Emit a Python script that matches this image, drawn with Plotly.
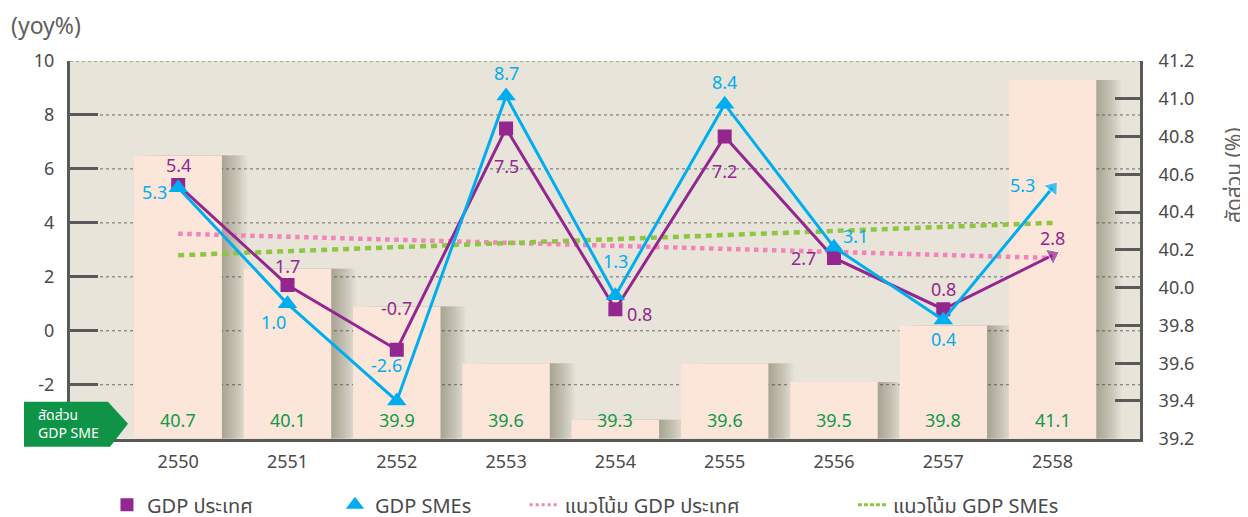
import plotly.graph_objects as go

years = ["2550", "2551", "2552", "2553", "2554", "2555", "2556", "2557", "2558"]
gdp_country = [5.4, 1.7, -0.7, 7.5, 0.8, 7.2, 2.7, 0.8, 2.8]
gdp_smes = [5.3, 1.0, -2.6, 8.7, 1.3, 8.4, 3.1, 0.4, 5.3]
sme_share = [40.7, 40.1, 39.9, 39.6, 39.3, 39.6, 39.5, 39.8, 41.1]
trend_country_ends = [3.6, 2.7]
trend_smes_ends = [2.8, 4.0]
left_ticks = [-2, 0, 2, 4, 6, 8, 10]
left_ticktext = ["-2", "0", "2", "4", "6", "8", "10"]

# label offsets (pixels) for the point labels
gdp_lbl_shift = [(0, 20), (0, 19), (0, 42), (0, -38), (24, -5), (0, -34), (-30, 0), (0, 20), (0, 17)]
sme_lbl_shift = [(-24, -4), (-14, -18), (-10, 36), (0, 23), (0, 35), (0, 22), (22, 11), (0, -19), (-30, 3)]

PURPLE = "#93278f"
CYAN = "#00aeef"
PINK = "#f384b8"
LGREEN = "#8dc63f"
DGREEN = "#12994a"
BG = "#e8e4da"
BAR = "#fce6d9"
AX = "#5a5a5a"
TXT = "#4a4a4a"
FONT = "Noto Sans, Noto Sans Thai, Tahoma, sans-serif"

idx = list(range(len(years)))
BW = 0.8
UNIT_PX = 1070 / 9.79

fig = go.Figure()

# soft shadows to the right of the bars
for k in range(1, 15):
    fig.add_trace(go.Bar(x=years, y=sme_share, yaxis="y", width=BW, offset=-BW / 2 + k * 1.8 / UNIT_PX,
                         marker=dict(color="rgba(90,80,65,0.034)", line=dict(width=0)),
                         showlegend=False, hoverinfo="skip"))

# bars (share of SMEs in GDP) on the base axis so lines are drawn on top
fig.add_trace(go.Bar(x=years, y=sme_share, yaxis="y", marker=dict(color=BAR, line=dict(width=0)),
                     width=BW, offset=-BW / 2, showlegend=False, hoverinfo="skip"))

# trend lines
fig.add_trace(go.Scatter(x=[years[0], years[-1]], y=trend_country_ends, yaxis="y2", mode="lines",
                         line=dict(color=PINK, width=4.5, dash="dot"), showlegend=False))
fig.add_trace(go.Scatter(x=[years[0], years[-1]], y=trend_smes_ends, yaxis="y2", mode="lines",
                         line=dict(color=LGREEN, width=4.5, dash="6px,5px"), showlegend=False))

# GDP country line
fig.add_trace(go.Scatter(x=years, y=gdp_country, yaxis="y2", mode="lines",
                         line=dict(color=PURPLE, width=3), showlegend=False))
fig.add_trace(go.Scatter(x=years[:-1], y=gdp_country[:-1], yaxis="y2", mode="markers",
                         marker=dict(symbol="square", size=14, color=PURPLE), showlegend=False))
fig.add_trace(go.Scatter(x=years[-2:], y=gdp_country[-2:], yaxis="y2", mode="markers",
                         marker=dict(symbol="triangle-up", angleref="previous", size=[0, 15], color=PURPLE),
                         showlegend=False))

# GDP SMEs line
fig.add_trace(go.Scatter(x=years, y=gdp_smes, yaxis="y2", mode="lines",
                         line=dict(color=CYAN, width=3), showlegend=False))
fig.add_trace(go.Scatter(x=years[:-1], y=gdp_smes[:-1], yaxis="y2", mode="markers",
                         marker=dict(symbol="triangle-up", size=17, color=CYAN), showlegend=False))
fig.add_trace(go.Scatter(x=years[-2:], y=gdp_smes[-2:], yaxis="y2", mode="markers",
                         marker=dict(symbol="triangle-up", angleref="previous", size=[0, 15], color=CYAN),
                         showlegend=False))

# legend-only entries (each in its own legend so they can be spaced like the original)
fig.add_trace(go.Scatter(x=[None], y=[None], yaxis="y2", mode="markers", name="GDP ประเทศ", legend="legend",
                         marker=dict(symbol="square", size=13, color=PURPLE)))
fig.add_trace(go.Scatter(x=[None], y=[None], yaxis="y2", mode="markers", name="GDP SMEs", legend="legend2",
                         marker=dict(symbol="triangle-up", size=16, color=CYAN)))
fig.add_trace(go.Scatter(x=[None], y=[None], yaxis="y2", mode="lines", name="แนวโน้ม GDP ประเทศ",
                         legend="legend3", line=dict(color=PINK, width=3, dash="dot")))
fig.add_trace(go.Scatter(x=[None], y=[None], yaxis="y2", mode="lines", name="แนวโน้ม GDP SMEs",
                         legend="legend4", line=dict(color=LGREEN, width=3, dash="4px,2px")))

annotations = []
for i in idx:
    annotations.append(dict(x=i, y=gdp_country[i], xref="x", yref="y2", text=f"{gdp_country[i]:.1f}",
                            showarrow=False, xshift=gdp_lbl_shift[i][0], yshift=gdp_lbl_shift[i][1],
                            font=dict(size=18, color=PURPLE)))
    annotations.append(dict(x=i, y=gdp_smes[i], xref="x", yref="y2", text=f"{gdp_smes[i]:.1f}",
                            showarrow=False, xshift=sme_lbl_shift[i][0], yshift=sme_lbl_shift[i][1],
                            font=dict(size=18, color=CYAN)))
    annotations.append(dict(x=i, y=0, xref="x", yref="paper", text=f"{sme_share[i]:.1f}",
                            showarrow=False, yanchor="middle", yshift=19,
                            font=dict(size=18, color=DGREEN)))

annotations.append(dict(x=-0.057, y=1.095, xref="paper", yref="paper", text="(yoy%)", showarrow=False,
                        xanchor="left", yanchor="middle", font=dict(size=23, color="#606060")))
annotations.append(dict(x=1.0875, y=0.697, xref="paper", yref="paper", text="สัดส่วน (%)", showarrow=False,
                        textangle=-90, xanchor="center", yanchor="middle", font=dict(size=21, color="#606060")))
annotations.append(dict(x=-0.0318, y=0.04, xref="paper", yref="paper", text="สัดส่วน<br>GDP SME",
                        showarrow=False, align="left", xanchor="left", yanchor="middle",
                        font=dict(size=14, color="white")))

shapes = []
for v in left_ticks:
    shapes.append(dict(type="line", xref="paper", yref="y2", x0=0, x1=1, y0=v, y1=v, layer="between",
                       line=dict(color="#6a6a6a", width=1, dash="3px,3px")))
shapes.append(dict(type="path", xref="paper", yref="paper", layer="above",
                   path="M -0.043 0.0976 L 0.0355 0.0976 L 0.0542 0.0396 L 0.0374 -0.0211 L -0.043 -0.0211 Z",
                   fillcolor="#0f9447", line=dict(width=0)))

legend_common = dict(orientation="h", xref="container", yref="container", y=0.039, yanchor="middle",
                     xanchor="left", font=dict(size=20, color=TXT), itemwidth=30,
                     bgcolor="rgba(0,0,0,0)")

fig.update_layout(
    width=1248, height=517,
    margin=dict(l=62, r=116, t=53, b=85),
    paper_bgcolor="white", plot_bgcolor=BG,
    font=dict(family=FONT, color=TXT),
    barmode="overlay",
    xaxis=dict(type="category", range=[-0.99, 8.8], showgrid=False, ticks="", showline=True,
               linecolor=AX, linewidth=3, tickfont=dict(size=18, color=TXT), ticklabelstandoff=5),
    yaxis=dict(side="right", range=[39.2, 41.2], dtick=0.2, tick0=39.2, tickformat=".1f", showgrid=False,
               zeroline=False, showline=True, linecolor=AX, linewidth=3, ticks="inside", ticklen=25,
               tickwidth=3, tickcolor=AX, tickfont=dict(size=18, color=TXT), ticklabelstandoff=12),
    yaxis2=dict(overlaying="y", side="left", range=[-4, 10], tickvals=left_ticks, ticktext=left_ticktext,
                showgrid=False, zeroline=False, showline=True, linecolor=AX, linewidth=3, ticks="inside",
                ticklen=28, tickwidth=3, tickcolor=AX, tickfont=dict(size=18, color=TXT), ticklabelstandoff=9),
    legend=dict(legend_common, x=0.0793),
    legend2=dict(legend_common, x=0.262),
    legend3=dict(legend_common, x=0.414),
    legend4=dict(legend_common, x=0.677),
    annotations=annotations,
    shapes=shapes,
)

fig.write_html("out.html")
